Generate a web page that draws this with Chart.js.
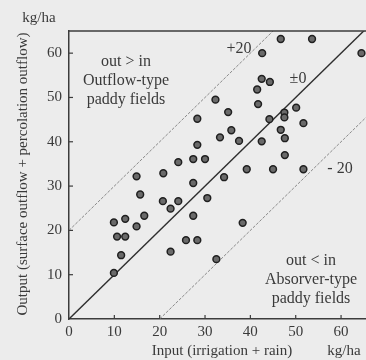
<!DOCTYPE html>
<html>
<head>
<meta charset="utf-8">
<script src="https://cdn.jsdelivr.net/npm/chart.js@4/dist/chart.umd.min.js"></script>
<style>
  html, body { margin: 0; padding: 0; background: #ececec; }
  #wrap { width: 366px; height: 360px; }
</style>
</head>
<body>
<div id="wrap"><canvas id="c" width="366" height="360"></canvas></div>
<script>
// ---- data (kg/ha) ----
const xTicks = [0, 10, 20, 30, 40, 50, 60];
const yTicks = [0, 10, 20, 30, 40, 50, 60];
const inputX = [
  46.7, 53.6, 64.5, 42.6, 42.5, 44.3, 41.5, 32.3, 41.7, 50.1,
  35.1, 28.3, 44.2, 47.5, 47.5, 51.7, 35.8, 46.7, 33.3, 37.5,
  42.5, 47.6, 28.3, 47.6, 24.1, 27.4, 30.0, 20.8, 14.9, 39.2,
  45.0, 51.7, 34.2, 27.4, 15.7, 20.7, 24.1, 22.4, 30.5, 16.6,
  27.4, 9.9, 12.4, 14.9, 38.3, 10.6, 12.4, 25.8, 28.3, 22.4,
  11.5, 32.5, 9.9
];
const outputY = [
  63.2, 63.2, 60.0, 60.0, 54.2, 53.5, 51.8, 49.5, 48.5, 47.7,
  46.7, 45.2, 45.1, 46.6, 45.5, 44.2, 42.6, 42.7, 41.0, 40.2,
  40.1, 40.8, 39.3, 37.0, 35.4, 36.1, 36.1, 32.9, 32.2, 33.8,
  33.8, 33.8, 32.0, 30.7, 28.1, 26.6, 26.6, 24.9, 27.3, 23.3,
  23.3, 21.8, 22.6, 20.9, 21.7, 18.6, 18.6, 17.8, 17.8, 15.2,
  14.4, 13.5, 10.4
];
// reference lines: output = input + offset
const refOffsets = [20, 0, -20];
const refLabels = ['+20', '\u00b10', '- 20'];
const xRange = [0, 65.5];
const yRange = [0, 65];

const SERIF = '"Liberation Serif", "DejaVu Serif", "Times New Roman", serif';
const TXT = '#3a3a3a';
const AX = '#3c3c3c';

const points = inputX.map((x, i) => ({ x: x, y: outputY[i] }));
const refSets = refOffsets.map(off => {
  const x0 = Math.max(xRange[0], -off);
  const x1 = xRange[1];
  return {
    type: 'scatter',
    data: [{ x: x0, y: x0 + off }, { x: x1, y: x1 + off }],
    showLine: true,
    pointRadius: 0,
    borderColor: off === 0 ? '#2e2e2e' : '#8a8a8a',
    borderWidth: off === 0 ? 1.4 : 1,
    borderDash: off === 0 ? [] : [3, 1.5],
    order: 2
  };
});

const deco = {
  id: 'deco',
  beforeDraw(chart) {
    const ctx = chart.ctx;
    ctx.save();
    ctx.fillStyle = '#ececec';
    ctx.fillRect(0, 0, chart.width, chart.height);
    ctx.restore();
  },
  afterDraw(chart) {
    const ctx = chart.ctx;
    const a = chart.chartArea;
    const xs = chart.scales.x, ys = chart.scales.y;
    ctx.save();
    // top border
    ctx.strokeStyle = AX;
    ctx.lineWidth = 1.5;
    ctx.beginPath();
    ctx.moveTo(a.left, a.top);
    ctx.lineTo(a.right, a.top);
    ctx.stroke();
    // inward ticks
    ctx.lineWidth = 1.2;
    xTicks.forEach(v => {
      if (v === 0) return;
      const px = xs.getPixelForValue(v);
      ctx.beginPath(); ctx.moveTo(px, a.bottom); ctx.lineTo(px, a.bottom - 4); ctx.stroke();
    });
    yTicks.forEach(v => {
      if (v === 0) return;
      const py = ys.getPixelForValue(v);
      ctx.beginPath(); ctx.moveTo(a.left, py); ctx.lineTo(a.left + 4, py); ctx.stroke();
    });
    // texts
    ctx.fillStyle = TXT;
    ctx.textAlign = 'center';
    ctx.textBaseline = 'middle';
    ctx.font = '16px ' + SERIF;
    ['out > in', 'Outflow-type', 'paddy fields'].forEach((t, i) => ctx.fillText(t, 126, 62 + i * 19));
    ['out < in', 'Absorver-type', 'paddy fields'].forEach((t, i) => ctx.fillText(t, 311, 261 + i * 19));
    // reference line labels
    ctx.fillText(refLabels[0], 239, 49);
    ctx.fillText(refLabels[1], 298, 79);
    ctx.fillText(refLabels[2], 340, 169);
    // units and x title
    ctx.font = '15px ' + SERIF;
    ctx.fillText('kg/ha', 39, 18);
    ctx.fillText('kg/ha', 344, 351);
    ctx.fillText('Input (irrigation + rain)', 222, 351);
    // y title
    ctx.translate(23, 174);
    ctx.rotate(-Math.PI / 2);
    ctx.fillText('Output (surface outflow + percolation outflow)', 0, 0);
    ctx.restore();
  }
};

new Chart(document.getElementById('c'), {
  type: 'scatter',
  data: {
    datasets: [
      {
        data: points,
        pointRadius: 3.4,
        pointHoverRadius: 3.4,
        backgroundColor: '#6a6a6a',
        borderColor: '#1f1f1f',
        borderWidth: 1.5,
        order: 1
      },
      ...refSets
    ]
  },
  options: {
    responsive: false,
    devicePixelRatio: 1,
    animation: false,
    events: [],
    layout: { autoPadding: false, padding: { top: 31, right: 0, left: 0, bottom: 0 } },
    plugins: { legend: { display: false }, tooltip: { enabled: false } },
    scales: {
      x: {
        type: 'linear',
        min: xRange[0], max: xRange[1],
        afterBuildTicks: s => { s.ticks = xTicks.map(v => ({ value: v })); },
        afterFit: s => { s.height = 41; },
        grid: { drawOnChartArea: false, drawTicks: false },
        border: { display: true, color: AX, width: 1.5 },
        ticks: { color: TXT, font: { family: SERIF, size: 15 }, padding: 4, maxRotation: 0 }
      },
      y: {
        type: 'linear',
        min: yRange[0], max: yRange[1],
        afterBuildTicks: s => { s.ticks = yTicks.map(v => ({ value: v })); },
        afterFit: s => { s.width = 69; },
        grid: { drawOnChartArea: false, drawTicks: false },
        border: { display: true, color: AX, width: 1.5 },
        ticks: { color: TXT, font: { family: SERIF, size: 15 }, padding: 7 }
      }
    }
  },
  plugins: [deco]
});
</script>
</body>
</html>
